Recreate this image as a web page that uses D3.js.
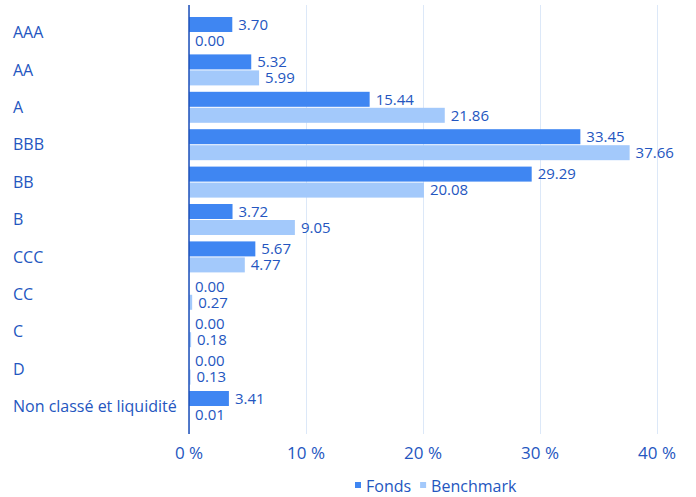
<!DOCTYPE html>
<html>
<head>
<meta charset="utf-8">
<script src="https://cdnjs.cloudflare.com/ajax/libs/d3/7.8.5/d3.min.js"></script>
<style>
	body { margin: 0; background: #fff; }
	svg text { font-family: 'Open Sans', 'Noto Sans', sans-serif; fill: #2456c0; }
</style>
</head>
<body>
<div id="chart"></div>
<script>
// Data
var categories = ['AAA', 'AA', 'A', 'BBB', 'BB', 'B', 'CCC', 'CC', 'C', 'D', 'Non classé et liquidité'];
var fondsValues = [3.70, 5.32, 15.44, 33.45, 29.29, 3.72, 5.67, 0.00, 0.00, 0.00, 3.41];
var benchmarkValues = [0.00, 5.99, 21.86, 37.66, 20.08, 9.05, 4.77, 0.27, 0.18, 0.13, 0.01];
var xTicks = [0, 10, 20, 30, 40];
var seriesNames = ['Fonds', 'Benchmark'];

var COLORS = { fonds: '#3f86f2', bench: '#a3c9fb', grid: '#dce8f8', axis: '#1d4fb8' };

var width = 696;
var height = 497;

var svg = d3.select('#chart')
	.append('svg')
	.attr('width', width)
	.attr('height', height);

/*
 * Scales
 */
var xScale = d3.scaleLinear()
	.domain([0, 40])
	.range([189, 657]);

var yScale = d3.scaleBand()
	.domain(categories)
	.range([13.8, 425.2])
	.paddingInner(0)
	.paddingOuter(0);

var barH = 15;
var gap = 1;

/*
 * Grid
 */
svg.append('g')
	.attr('class', 'x grid')
	.attr('transform', 'translate(0,434)')
	.call(d3.axisBottom(xScale).tickValues(xTicks).tickSize(-429).tickFormat(''))
	.call(function(g) {
		g.select('.domain').remove();
		g.selectAll('line').attr('stroke', COLORS.grid).attr('stroke-width', 1);
	});

/*
 * Bars
 */
var rows = categories.map(function(c, i) {
	return { name: c, fonds: fondsValues[i], bench: benchmarkValues[i] };
});

var row = svg.append('g')
	.selectAll('g')
	.data(rows)
	.enter()
	.append('g')
	.attr('transform', function(d) {
		return 'translate(0,' + (yScale(d.name) + yScale.bandwidth() / 2) + ')';
	});

row.append('rect')
	.attr('x', xScale(0))
	.attr('y', -barH - gap / 2)
	.attr('width', function(d) { return xScale(d.fonds) - xScale(0); })
	.attr('height', barH)
	.attr('fill', COLORS.fonds);

row.append('rect')
	.attr('x', xScale(0))
	.attr('y', gap / 2)
	.attr('width', function(d) { return xScale(d.bench) - xScale(0); })
	.attr('height', barH)
	.attr('fill', COLORS.bench);

row.append('text')
	.attr('x', function(d) { return xScale(d.fonds) + 6; })
	.attr('y', -barH / 2 - gap / 2)
	.attr('dy', '0.35em')
	.attr('font-size', 15)
	.text(function(d) { return d.fonds.toFixed(2); });

row.append('text')
	.attr('x', function(d) { return xScale(d.bench) + 6; })
	.attr('y', barH / 2 + gap / 2)
	.attr('dy', '0.35em')
	.attr('font-size', 15)
	.text(function(d) { return d.bench.toFixed(2); });

// category labels
row.append('text')
	.attr('x', 13)
	.attr('y', 0)
	.attr('dy', '0.35em')
	.attr('font-size', 16)
	.text(function(d) { return d.name; });

/*
 * Axis line
 */
svg.append('line')
	.attr('x1', xScale(0))
	.attr('x2', xScale(0))
	.attr('y1', 5)
	.attr('y2', 434)
	.attr('stroke', COLORS.axis)
	.attr('stroke-width', 1.5);

/*
 * X tick labels
 */
svg.append('g')
	.selectAll('text')
	.data(xTicks)
	.enter()
	.append('text')
	.attr('x', function(d) { return xScale(d); })
	.attr('y', 453)
	.attr('dy', '0.35em')
	.attr('text-anchor', 'middle')
	.attr('font-size', 17)
	.text(function(d) { return d + ' %'; });

/*
 * Legend
 */
var legend = svg.append('g').attr('transform', 'translate(355,486)');
var legendX = 0;
seriesNames.forEach(function(name, i) {
	legend.append('rect')
		.attr('x', legendX)
		.attr('y', -4)
		.attr('width', 6)
		.attr('height', 6)
		.attr('fill', i == 0 ? COLORS.fonds : COLORS.bench);
	var t = legend.append('text')
		.attr('x', legendX + 11)
		.attr('y', 0)
		.attr('dy', '0.35em')
		.attr('font-size', 16)
		.text(name);
	legendX += 11 + t.node().getComputedTextLength() + 9;
});
</script>
</body>
</html>
